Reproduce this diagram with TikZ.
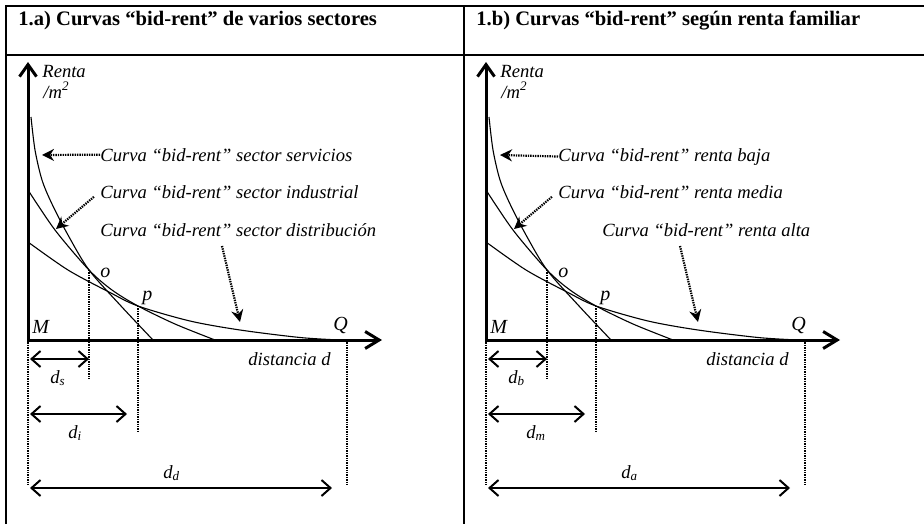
\documentclass[tikz,border=0pt]{standalone}
\usepackage{fontspec}
\setmainfont{Liberation Serif}
\usetikzlibrary{arrows.meta}

\tikzset{
  tableline/.style={line width=0.75pt},
  axisline/.style={line width=1.5pt, line join=miter,
    {Straight Barb[length=6pt,width=8.5pt]}-{Straight Barb[length=7pt,width=8.5pt]}},
  bidcurve/.style={line width=0.55pt},
  dropline/.style={line width=1.1pt, dash pattern=on 0.7pt off 0.5pt},
  pointer/.style={dropline, -{Stealth[length=6pt,width=6pt]}},
  spanarrow/.style={line width=1pt,
    {Straight Barb[length=4.5pt,width=8pt]}-{Straight Barb[length=4.5pt,width=8pt]}},
  headtext/.style={font=\fontsize{10.3}{12}\selectfont\bfseries, inner sep=0pt, anchor=base west},
  curvetext/.style={font=\fontsize{9.3}{11}\selectfont\itshape, inner sep=0pt, anchor=base west},
  pointtext/.style={font=\fontsize{10}{12}\selectfont\itshape, inner sep=0pt, anchor=base west}
}

\begin{document}
\begin{tikzpicture}[x=0.5pt,y=-0.5pt]
\useasboundingbox (0,0) rectangle (924,524);

% Table ruling
\draw[tableline] (6,524) -- (6,6) -- (924,6);
\draw[tableline] (6,55) -- (924,55);
\draw[tableline] (464,6) -- (464,524);

% Both panels share one layout
\foreach \pfx/\dx/\ptitle/\nameA/\nameB/\nameC/\xC/\subA/\subB/\subC in {
    a/0/{1.a) Curvas “bid-rent” de varios sectores}/{sector servicios}/{sector industrial}/{sector distribución}/100/s/i/d,
    b/458/{1.b) Curvas “bid-rent” según renta familiar}/{renta baja}/{renta media}/{renta alta}/144/b/m/a}
{
\begin{scope}[shift={(\dx,0)}, name prefix=\pfx-]

  \node[headtext] (head) at (18,26) {\ptitle};

  % Axes
  \coordinate (M) at (28,340);
  \coordinate (ytop) at (28,62);
  \coordinate (xend) at (382,340);
  \draw[axisline] (ytop) -- (M) -- (xend);
  \node[curvetext] (renta) at (42,77) {Renta};
  \node[curvetext] (perm) at (43,98) {/m\textsuperscript{2}};
  \node[pointtext] (Mlab) at (32,333) {M};
  \node[pointtext] (Qlab) at (333,330) {Q};
  \node[curvetext] (dist) at (248,365) {distancia d};

  % Bid-rent curves, crossing at o and p
  \coordinate (o) at (89,270);
  \coordinate (p) at (138,306);
  \draw[bidcurve] plot[smooth] coordinates
    {(31,117) (35,150) (42,180) (52,204) (68,235) (o) (121,306) (153,340)};
  \draw[bidcurve] plot[smooth] coordinates
    {(28,190) (55,230) (o) (112,290) (p) (175,324) (215,340)};
  \draw[bidcurve] plot[smooth] coordinates
    {(28,242) (68,270) (109,292) (p) (190,321) (240,330) (300,337.5) (340,340)};
  \node[pointtext] (olab) at (100,277) {o};
  \node[pointtext] (plab) at (142,300) {p};

  % Curve labels and their pointers
  \node[curvetext] (lblA) at (100,161) {Curva “bid-rent” \nameA};
  \node[curvetext] (lblB) at (100,198) {Curva “bid-rent” \nameB};
  \node[curvetext] (lblC) at (\xC,236) {Curva “bid-rent” \nameC};
  \coordinate (tipA) at (42,155);
  \coordinate (tipB) at (56,229);
  \coordinate (tailC) at (222,246);
  \coordinate (tipC) at (240,322);
  \draw[pointer] (lblA.west) -- (tipA);
  \draw[pointer, shorten <=4pt] (lblB.west) -- (tipB);
  \draw[pointer] (tailC) -- (tipC);

  % Drop lines
  \coordinate (ofoot) at (89,380);
  \coordinate (pfoot) at (138,433);
  \coordinate (Mfoot) at (28,485);
  \coordinate (Q) at (347,340);
  \coordinate (Qfoot) at (347,485);
  \draw[dropline] (o) -- (ofoot);
  \draw[dropline] (p) -- (pfoot);
  \draw[dropline] (M) -- (Mfoot);
  \draw[dropline] (Q) -- (Qfoot);

  % Distances measured from M
  \coordinate (spanA0) at (30,359);
  \coordinate (spanA1) at (89,359);
  \coordinate (spanB0) at (30,414);
  \coordinate (spanB1) at (127,414);
  \coordinate (spanC0) at (30,488);
  \coordinate (spanC1) at (332,488);
  \draw[spanarrow] (spanA0) -- (spanA1);
  \draw[spanarrow] (spanB0) -- (spanB1);
  \draw[spanarrow] (spanC0) -- (spanC1);
  \node[curvetext] (dA) at (50,383) {d\textsubscript{\subA}};
  \node[curvetext] (dB) at (68,438) {d\textsubscript{\subB}};
  \node[curvetext] (dC) at (163,478) {d\textsubscript{\subC}};

\end{scope}
}

\end{tikzpicture}
\end{document}
